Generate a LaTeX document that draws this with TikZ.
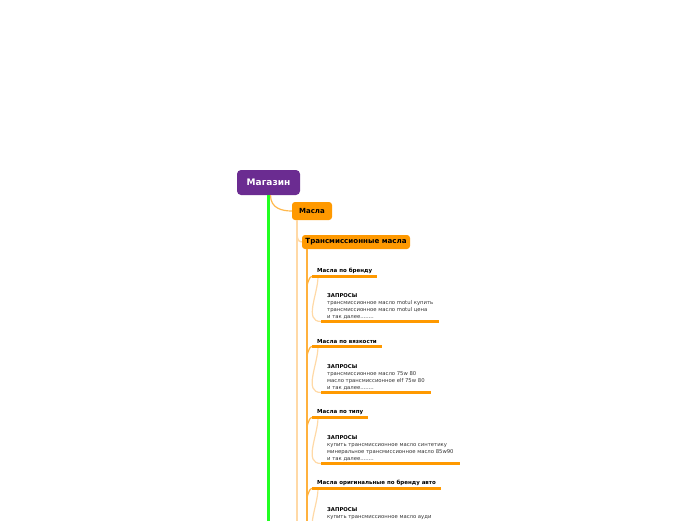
\documentclass[tikz,border=0pt]{standalone}
\usepackage{fontspec}
\setmainfont{DejaVu Sans}
\definecolor{rootpurple}{HTML}{6B2C91}
\definecolor{topicorange}{HTML}{FF9900}
\definecolor{rootgreen}{HTML}{22FF22}
\definecolor{paleorange}{HTML}{FFD9A6}
\definecolor{midorange}{HTML}{FFB13D}
\definecolor{bodygrey}{HTML}{333333}
\tikzset{
  rootbox/.style={fill=rootpurple, text=white, rounded corners=4pt, minimum width=63pt, minimum height=25pt, inner sep=0pt, font=\bfseries\fontsize{9}{10}\selectfont},
  topicbox/.style={fill=topicorange, text=black, rounded corners=3pt, inner sep=0pt, font=\bfseries\fontsize{7}{8}\selectfont},
  subtopic/.style={anchor=south west, inner xsep=5pt, inner ysep=3pt, font=\bfseries\fontsize{5.5}{6.5}\selectfont, text=black},
  querybox/.style={anchor=south west, inner xsep=6pt, inner ysep=2.5pt, align=left, font=\fontsize{5.3}{6.7}\selectfont, text=bodygrey},
  uline/.style={draw=topicorange, line width=3pt},
  greenline/.style={draw=rootgreen, line width=3.8pt},
  paleline/.style={draw=paleorange, line width=1.5pt},
  midline/.style={draw=midorange, line width=2pt},
  rootconn/.style={draw=topicorange!70, line width=1.2pt},
}
\begin{document}
\begin{tikzpicture}[x=1pt,y=-1pt]
\useasboundingbox (0,0) rectangle (696,520);
\clip (0,0) rectangle (696,520);

% root
\node[rootbox] (root) at (268.5,182.5) {Магазин};
\coordinate (gEnd) at (268.5,525);
\draw[greenline] (root.south) -- (gEnd);

% Масла
\node[topicbox, minimum width=40pt, minimum height=18pt] (masla) at (312,211) {Масла};
\draw[rootconn] ([xshift=2pt]root.south) .. controls +(0,13) and +(-10,0) .. (masla.west);
\coordinate (mv) at ([xshift=5pt]masla.south west);
\coordinate (mvEnd) at (mv |- gEnd);
\draw[paleline] (mv) -- (mvEnd);

% Трансмиссионные масла
\node[topicbox, minimum width=108pt, minimum height=14pt, font=\bfseries\fontsize{7.1}{8}\selectfont] (trans) at (356,242) {Трансмиссионные масла};
\draw[paleline] (mv |- 0,232) to[out=-90,in=180] (trans.west);
\coordinate (tv) at ([xshift=5pt]trans.south west);
\coordinate (tvEnd) at (tv |- gEnd);
\draw[midline] (tv) -- (tvEnd);

% subtopics
\node[subtopic] (s1) at (312,276.5) {Масла по бренду};
\node[subtopic] (s2) at (312,346.5) {Масла по вязкости};
\node[subtopic] (s3) at (312,417.5) {Масла по типу};
\node[subtopic] (s4) at (312,488.5) {Масла оригинальные по бренду авто};

% queries
\node[querybox] (q1) at (321,321.5) {\textbf{\color{black}ЗАПРОСЫ}\\трансмиссионное масло motul купить\\трансмиссионное масло motul цена\\и так далее........};
\node[querybox] (q2) at (321,392.5) {\textbf{\color{black}ЗАПРОСЫ}\\трансмиссионное масло 75w 80\\масло трансмиссионное elf 75w 80\\и так далее........};
\node[querybox] (q3) at (321,463.5) {\textbf{\color{black}ЗАПРОСЫ}\\купить трансмиссионное масло синтетику\\минеральное трансмиссионное масло 85w90\\и так далее........};
\node[querybox] (q4) at (321,534.5) {\textbf{\color{black}ЗАПРОСЫ}\\купить трансмиссионное масло ауди\\\phantom{x}\\\phantom{x}};

\foreach \s/\q in {s1/q1,s2/q2,s3/q3,s4/q4}{
  \draw[midline, line width=1.2pt] ([yshift=-9pt]\s.south west -| tv) to[out=-90,in=180] (\s.south west);
  \draw[paleline, line width=1.2pt] ([xshift=6pt]\s.south west) to[out=-90,in=180] (\q.south west);
  \draw[uline] (\s.south west) -- (\s.south east);
  \draw[uline] (\q.south west) -- (\q.south east);
}
\end{tikzpicture}
\end{document}
